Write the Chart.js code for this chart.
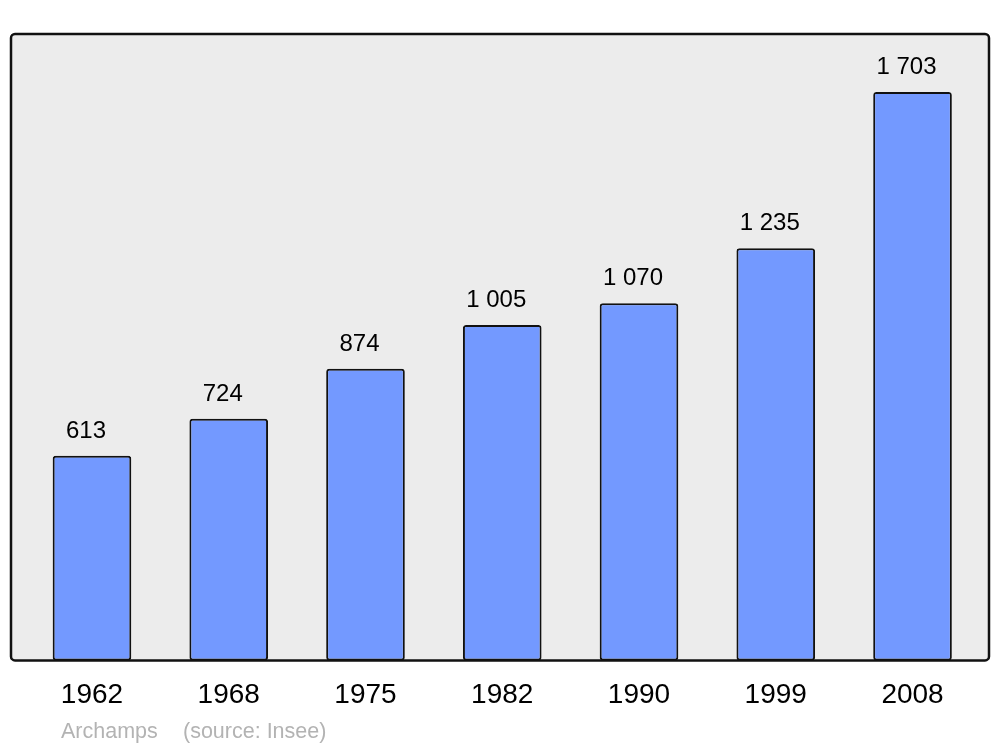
<!DOCTYPE html>
<html>
<head>
<meta charset="utf-8">
<script src="https://cdn.jsdelivr.net/npm/chart.js@4/dist/chart.umd.min.js"></script>
<style>
  html, body { margin: 0; padding: 0; background: #fff; }
  #wrap { width: 1000px; height: 747px; }
</style>
</head>
<body>
<div id="wrap"><canvas id="myChart"></canvas></div>
<script>
// donnees
const years = ['1962', '1968', '1975', '1982', '1990', '1999', '2008'];
const population = [613, 724, 874, 1005, 1070, 1235, 1703];
const yMax = 1877;
const commune = 'Archamps';
const source = '(source: Insee)';

function fmt(n) {
    return String(n).replace(/\B(?=(\d{3})+(?!\d))/g, ' ');
}

// fond gris + cadre
const frame = {
    id: 'frame',
    beforeDatasetsDraw(chart) {
        const c = chart.ctx;
        const a = chart.chartArea;
        c.save();
        c.fillStyle = '#ececec';
        c.beginPath();
        c.roundRect(11, a.top, chart.width - 22, a.bottom - a.top, 4);
        c.fill();
        c.restore();
    },
    afterDatasetsDraw(chart) {
        const c = chart.ctx;
        const a = chart.chartArea;
        c.save();
        c.strokeStyle = '#111';
        c.lineWidth = 2.5;
        c.beginPath();
        c.roundRect(11, a.top, chart.width - 22, a.bottom - a.top, 4);
        c.stroke();

        // valeurs au-dessus des barres
        c.fillStyle = '#000';
        c.font = '24px "Liberation Sans", Arial, sans-serif';
        c.textAlign = 'center';
        c.textBaseline = 'alphabetic';
        chart.getDatasetMeta(0).data.forEach((bar, i) => {
            c.fillText(fmt(population[i]), bar.x - 6, bar.y - 18);
        });

        // pied
        c.fillStyle = '#b3b3b3';
        c.font = '21.5px "Liberation Sans", Arial, sans-serif';
        c.textAlign = 'left';
        c.fillText(commune, 61, 738);
        c.fillText(source, 183, 738);
        c.restore();
    }
};

const ctx = document.getElementById('myChart').getContext('2d');
const myChart = new Chart(ctx, {
    type: 'bar',
    data: {
        labels: years,
        datasets: [{
            data: population,
            backgroundColor: '#7399ff',
            borderColor: '#111',
            borderWidth: 2,
            borderRadius: 3,
            borderSkipped: false,
            barPercentage: 0.575,
            categoryPercentage: 1
        }]
    },
    options: {
        responsive: true,
        maintainAspectRatio: false,
        animation: false,
        layout: { padding: { left: 23.6, right: 19.1, top: 34, bottom: 17 } },
        plugins: { legend: { display: false }, tooltip: { enabled: false } },
        scales: {
            x: {
                grid: { display: false, drawTicks: false },
                border: { display: false },
                ticks: {
                    color: '#000',
                    padding: 18,
                    font: { size: 28, family: '"Liberation Sans", Arial, sans-serif' }
                }
            },
            y: { display: false, min: 0, max: yMax }
        }
    },
    plugins: [frame]
});
</script>
</body>
</html>
